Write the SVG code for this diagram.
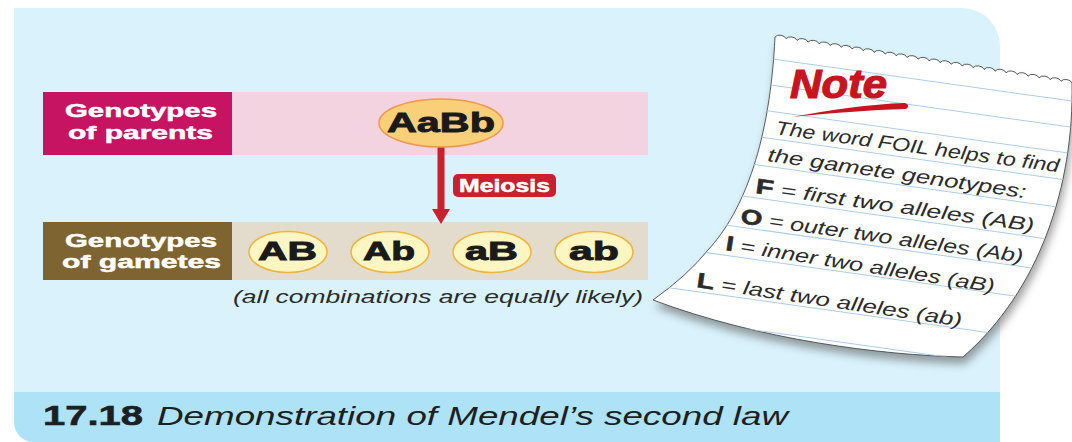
<svg xmlns="http://www.w3.org/2000/svg" width="1072" height="442" viewBox="0 0 1072 442">
<style>
.lbl{font-family:"Liberation Sans",Arial,sans-serif;font-weight:bold;fill:#ffffff;stroke:#ffffff;stroke-width:0.5;font-size:19px}
.allele{font-family:"Liberation Sans",Arial,sans-serif;font-weight:bold;fill:#1a1a1a;stroke:#1a1a1a;stroke-width:0.9;font-size:26px}
.gam{fill:#fdf5c2;stroke:#f0b43a;stroke-width:1.5}
.hand{font-family:"Liberation Sans",Arial,sans-serif;font-style:italic;fill:#2b2b2b;font-size:19px}
.hb{font-weight:bold;font-style:normal;font-size:21px;stroke:#2b2b2b;stroke-width:0.6}
.rule{stroke:#a9cdee;stroke-width:1}
</style>
<defs>
<marker id="ahead" markerUnits="userSpaceOnUse" markerWidth="16" markerHeight="18" refX="0" refY="9" orient="auto">
<path d="M0,0 L15,9 L0,18 Z" fill="#c8202c"/>
</marker>
<path id="paper-shape" d="M775,37 a6,4.2 8 0 1 11,1.704 a6,4.2 8 0 1 11,1.704 a6,4.2 8 0 1 11,1.704 a6,4.2 8 0 1 11,1.704 a6,4.2 8 0 1 11,1.704 a6,4.2 8 0 1 11,1.704 a6,4.2 8 0 1 11,1.704 a6,4.2 8 0 1 11,1.704 a6,4.2 8 0 1 11,1.704 a6,4.2 8 0 1 11,1.704 a6,4.2 8 0 1 11,1.704 a6,4.2 8 0 1 11,1.704 a6,4.2 8 0 1 11,1.704 a6,4.2 8 0 1 11,1.704 a6,4.2 8 0 1 11,1.704 a6,4.2 8 0 1 11,1.704 a6,4.2 8 0 1 11,1.704 a6,4.2 8 0 1 11,1.704 a6,4.2 8 0 1 11,1.704 a6,4.2 8 0 1 11,1.704 a6,4.2 8 0 1 11,1.704 a6,4.2 8 0 1 11,1.704 a6,4.2 8 0 1 11,1.704 a6,4.2 8 0 1 11,1.704 a6,4.2 8 0 1 11,1.704 a6,4.2 8 0 1 11,1.704 a6,4.2 8 0 1 11,1.704 C1074,185 1040,290 963,357 C880,355 760,340 653,300 Q688,275 708,250 C745,210 770,140 775,37 Z"/>
<clipPath id="paper-clip"><use href="#paper-shape"/></clipPath>
<filter id="blur" x="-20%" y="-20%" width="140%" height="140%"><feGaussianBlur stdDeviation="4"/></filter>
</defs>

<!-- background panel -->
<g id="panel">
<path d="M14,8 H962 A38,38 0 0 1 1000,46 V442 H34 A20,20 0 0 1 14,422 Z" fill="#d9f2fb"/>
<path d="M14,392 H1000 V442 H34 A20,20 0 0 1 14,422 Z" fill="#ade2f7"/>
</g>

<!-- parents row -->
<g id="row-parents">
<rect x="232" y="92" width="416" height="63" fill="#f2d3df"/>
<rect x="43" y="92" width="189" height="63" fill="#c71462"/>
<text class="lbl" x="65" y="117" textLength="152" lengthAdjust="spacingAndGlyphs">Genotypes</text>
<text class="lbl" x="68" y="139" textLength="145" lengthAdjust="spacingAndGlyphs">of parents</text>
</g>

<!-- gametes row -->
<g id="row-gametes">
<rect x="232" y="222" width="416" height="58" fill="#e3dccc"/>
<rect x="43" y="222" width="189" height="58" fill="#7d6430"/>
<text class="lbl" x="65" y="247" textLength="152" lengthAdjust="spacingAndGlyphs">Genotypes</text>
<text class="lbl" x="62" y="268" textLength="159" lengthAdjust="spacingAndGlyphs">of gametes</text>
</g>

<!-- connectors -->
<g id="connectors">
<line x1="441" y1="147" x2="441" y2="209" stroke="#c8202c" stroke-width="7" marker-end="url(#ahead)"/>
<g id="label-meiosis">
<rect x="453" y="174" width="103" height="23" rx="5" fill="#c8202f"/>
<text class="lbl" x="459" y="192" textLength="91" lengthAdjust="spacingAndGlyphs" style="font-size:18px">Meiosis</text>
</g>
</g>

<g id="node-AaBb">
<ellipse cx="441" cy="123" rx="62" ry="24" fill="#f9cf7a" stroke="#f0984a" stroke-width="1.5"/>
<text class="allele" x="387" y="132" textLength="108" lengthAdjust="spacingAndGlyphs" style="font-size:28px">AaBb</text>
</g>

<g id="node-AB">
<ellipse class="gam" cx="288" cy="252" rx="39" ry="20.5"/>
<text class="allele" x="258" y="260" textLength="59" lengthAdjust="spacingAndGlyphs">AB</text>
</g>
<g id="node-Ab">
<ellipse class="gam" cx="390" cy="252" rx="39" ry="20.5"/>
<text class="allele" x="363" y="260" textLength="52" lengthAdjust="spacingAndGlyphs">Ab</text>
</g>
<g id="node-aB">
<ellipse class="gam" cx="492" cy="252" rx="39" ry="20.5"/>
<text class="allele" x="465" y="260" textLength="53" lengthAdjust="spacingAndGlyphs">aB</text>
</g>
<g id="node-ab">
<ellipse class="gam" cx="594" cy="252" rx="39" ry="20.5"/>
<text class="allele" x="569" y="260" textLength="50" lengthAdjust="spacingAndGlyphs">ab</text>
</g>

<text id="note-equal" x="233" y="303" font-family="Liberation Sans, Arial, sans-serif" font-style="italic" font-size="18" fill="#2a2a2a" textLength="410" lengthAdjust="spacingAndGlyphs">(all combinations are equally likely)</text>

<!-- note paper -->
<g id="note">
<use href="#paper-shape" transform="translate(2,7)" fill="#555" opacity="0.55" filter="url(#blur)"/>
<use href="#paper-shape" fill="#ffffff" stroke="#4a4a4a" stroke-width="0.9"/>
<g clip-path="url(#paper-clip)">
<g transform="rotate(8 775 134)">
<line class="rule" x1="560" y1="34" x2="1160" y2="34"/>
<line class="rule" x1="560" y1="60" x2="1160" y2="60"/>
<line class="rule" x1="560" y1="86" x2="1160" y2="86"/>
<line class="rule" x1="560" y1="112" x2="1160" y2="112"/>
<line class="rule" x1="560" y1="139" x2="1160" y2="139"/>
<line class="rule" x1="560" y1="167" x2="1160" y2="167"/>
<line class="rule" x1="560" y1="200" x2="1160" y2="200"/>
<line class="rule" x1="560" y1="231" x2="1160" y2="231"/>
<line class="rule" x1="560" y1="261" x2="1160" y2="261"/>
<line class="rule" x1="560" y1="301" x2="1160" y2="301"/>
<line class="rule" x1="560" y1="331" x2="1160" y2="331"/>
</g>
</g>
<text x="790" y="98" font-family="Liberation Sans, Arial, sans-serif" font-weight="bold" font-style="italic" font-size="40" fill="#c8141e" stroke="#c8141e" stroke-width="1.2" textLength="97" lengthAdjust="spacingAndGlyphs">Note</text>
<path d="M792,117 C830,110 870,104 905,103 Q911,105 906,109 C870,110 830,113 792,117 Z" fill="#c8141e"/>
<text class="hand" transform="translate(775,134) rotate(7.7)" textLength="286" lengthAdjust="spacingAndGlyphs">The word FOIL helps to find</text>
<text class="hand" transform="translate(767,161) rotate(8.2)" textLength="261" lengthAdjust="spacingAndGlyphs">the gamete genotypes:</text>
<text class="hand" transform="translate(755,193) rotate(7.9)" textLength="281" lengthAdjust="spacingAndGlyphs"><tspan class="hb">F</tspan> = first two alleles (AB)</text>
<text class="hand" transform="translate(740,223) rotate(8)" textLength="285" lengthAdjust="spacingAndGlyphs"><tspan class="hb">O</tspan> = outer two alleles (Ab)</text>
<text class="hand" transform="translate(725,250) rotate(9)" textLength="272" lengthAdjust="spacingAndGlyphs"><tspan class="hb">I</tspan> = inner two alleles (aB)</text>
<text class="hand" transform="translate(696,287) rotate(8.5)" textLength="268" lengthAdjust="spacingAndGlyphs"><tspan class="hb">L</tspan> = last two alleles (ab)</text>
</g>

<!-- figure caption -->
<g id="caption">
<text x="43" y="425" font-family="Liberation Sans, Arial, sans-serif" font-weight="bold" font-size="28" fill="#1e1e1e" stroke="#1e1e1e" stroke-width="0.6" textLength="100" lengthAdjust="spacingAndGlyphs">17.18</text>
<text x="157" y="425" font-family="Liberation Sans, Arial, sans-serif" font-style="italic" font-size="25" fill="#1e1e1e" textLength="631" lengthAdjust="spacingAndGlyphs">Demonstration of Mendel’s second law</text>
</g>
</svg>
